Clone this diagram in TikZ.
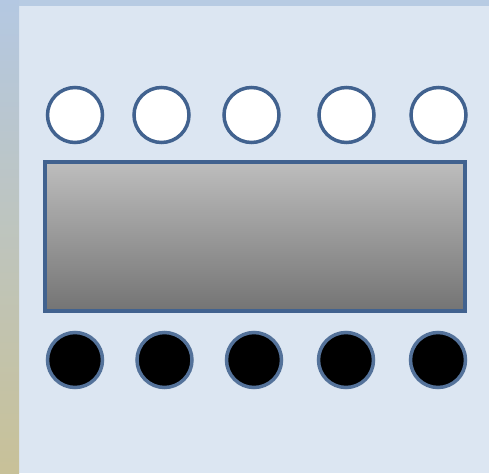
\documentclass[tikz,border=0pt]{standalone}
\begin{document}
\begin{tikzpicture}[x=1pt,y=-1pt,
  edge/.style={draw=rimblue,line width=3.5pt},
  pin/.style={circle,edge,minimum size=55pt,inner sep=0pt},
  inpin/.style={pin,fill=white},
  outpin/.style={pin,fill=black,draw=rimblue!90!white},
  chip/.style={edge,top color=chiptop,bottom color=chipbot,minimum width=420pt,minimum height=149pt,inner sep=0pt}]
\definecolor{rimblue}{HTML}{41628F}
\definecolor{bgmain}{HTML}{DCE6F2}
\definecolor{striptop}{HTML}{B4C8E2}
\definecolor{stripbot}{HTML}{C8C198}
\definecolor{topband}{HTML}{B7CBE3}
\definecolor{chiptop}{HTML}{BDBDBD}
\definecolor{chipbot}{HTML}{747474}
\useasboundingbox (0,0) rectangle (489,473);
\fill[bgmain] (0,0) rectangle (489,473);
\fill[topband] (0,0) rectangle (489,6);
\shade[top color=striptop,bottom color=stripbot] (0,0) rectangle (19,473);
\node[chip] (box) at (255,236.5) {};
\node[inpin] (i1) at (75,115) {};
\node[inpin] (i2) at (161.5,115) {};
\node[inpin] (i3) at (251.5,115) {};
\node[inpin] (i4) at (346.5,115) {};
\node[inpin] (i5) at (438.5,115) {};
\node[outpin] (o1) at (75,360) {};
\node[outpin] (o2) at (164.5,360) {};
\node[outpin] (o3) at (254,360) {};
\node[outpin] (o4) at (346,360) {};
\node[outpin] (o5) at (438,360) {};
\end{tikzpicture}
\end{document}
